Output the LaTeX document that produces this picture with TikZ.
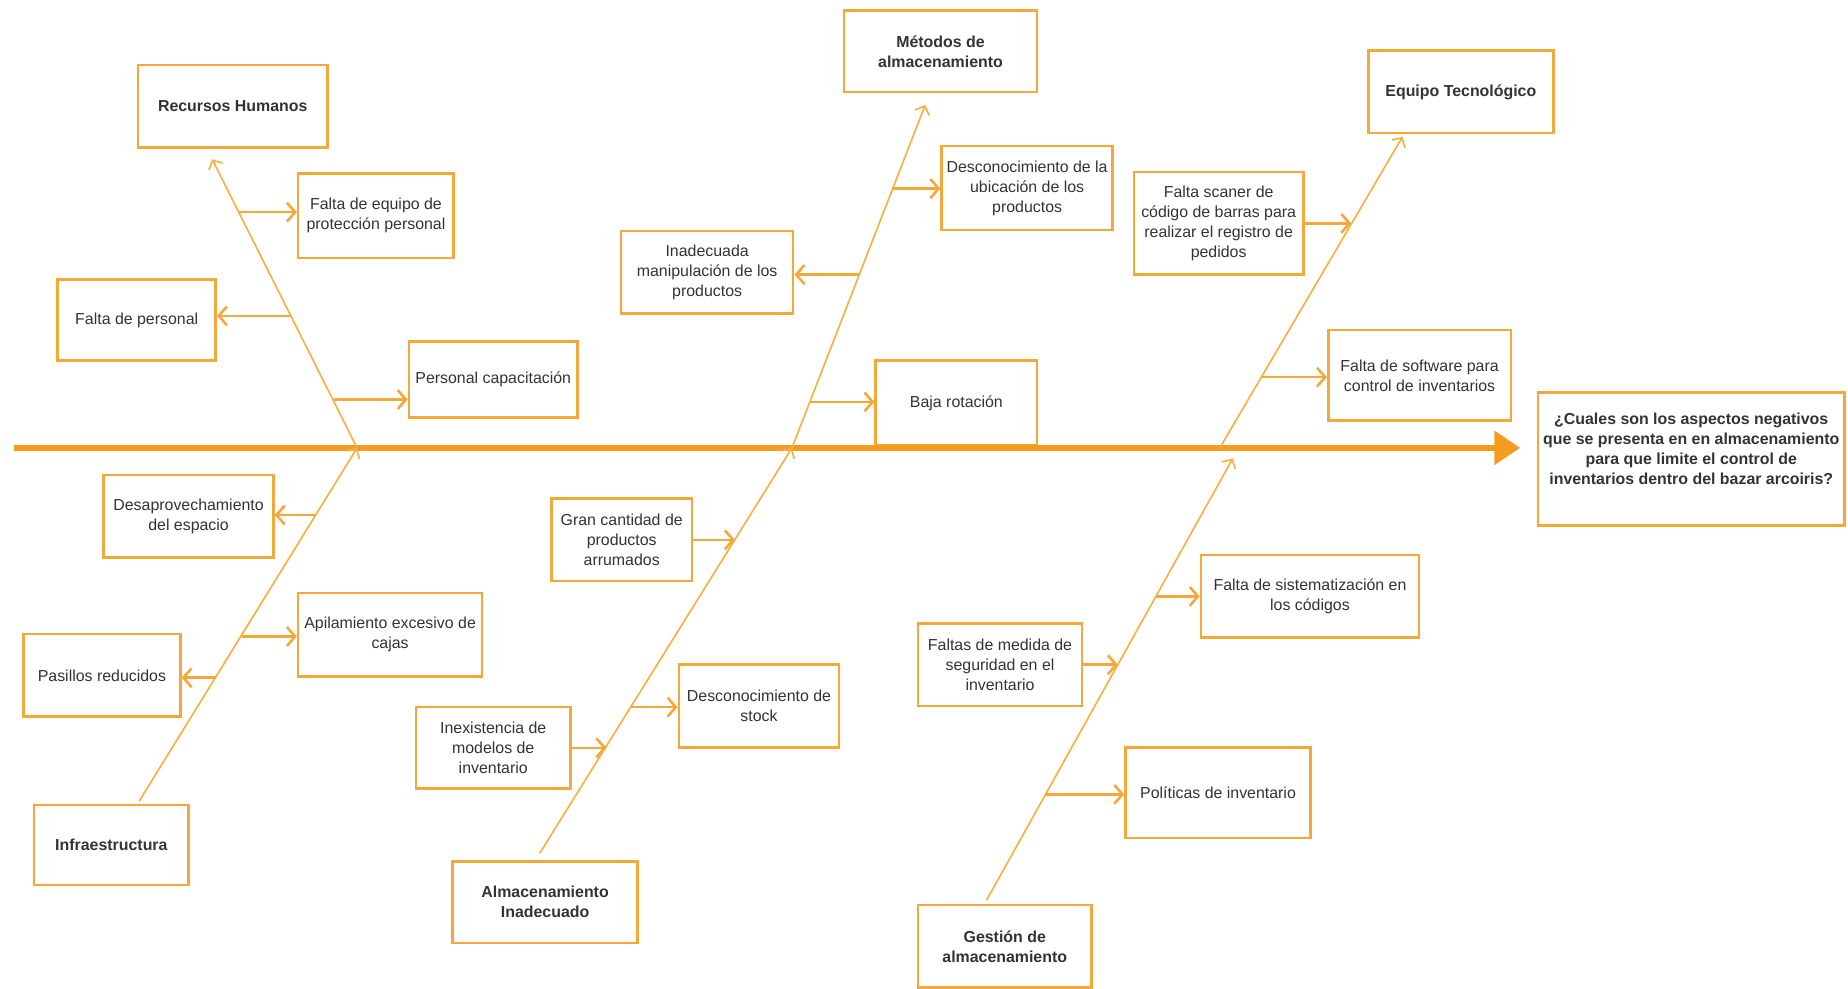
\documentclass[tikz,border=0pt]{standalone}
\usepackage{fontspec}
\setmainfont{Liberation Sans}
\usetikzlibrary{arrows.meta}

\definecolor{fishorange}{HTML}{F59B1F}
\definecolor{boneorange}{HTML}{F7B13F}
\definecolor{boxorange}{HTML}{F5A83A}
\definecolor{labelgray}{HTML}{333333}

\tikzset{
  causebox/.style={draw=boxorange, line width=2.2pt, fill=white, align=center, text=labelgray, inner sep=2pt, font=\fontsize{13.5}{17}\selectfont},
  headbox/.style={causebox, font=\fontsize{13.5}{17}\selectfont\bfseries},
  spine/.style={fishorange, line width=5pt, -{Triangle[length=22pt,width=28pt]}},
  bone/.style={boneorange, line width=1.4pt, -{Straight Barb[length=6pt,width=13pt]}},
  twig/.style={boxorange, line width=2.2pt, -{Straight Barb[length=7pt,width=16pt]}},
}

\begin{document}
\begin{tikzpicture}[x=1pt,y=-1pt]
\useasboundingbox (0,0) rectangle (1568,839);

% categories
\node[headbox, minimum width=161pt, minimum height=70pt] (rh)    at (197.5,90)  {Recursos Humanos};
\node[headbox, minimum width=164pt, minimum height=69pt] (met)   at (798,43.5)  {Métodos de\\almacenamiento};
\node[headbox, minimum width=157pt, minimum height=70pt] (eqt)   at (1239.5,78) {Equipo Tecnológico};
\node[headbox, minimum width=131pt, minimum height=68pt] (infra) at (94.5,717)  {Infraestructura};
\node[headbox, minimum width=157pt, minimum height=69pt] (alm)   at (462.5,765.5) {Almacenamiento\\Inadecuado};
\node[headbox, minimum width=147pt, minimum height=70pt] (gest)  at (852.5,803) {Gestión de\\almacenamiento};

% problem
\node[headbox, minimum width=260pt, minimum height=113pt, text depth=18pt] (q) at (1435,389.5) {¿Cuales son los aspectos negativos\\que se presenta en en almacenamiento\\para que limite el control de\\inventarios dentro del bazar arcoiris?};

% causes, upper half
\node[causebox, minimum width=132pt, minimum height=72pt] (feq)   at (319,183)    {Falta de equipo de\\protección personal};
\node[causebox, minimum width=134pt, minimum height=69pt] (fpers) at (116,271.5)  {Falta de personal};
\node[causebox, minimum width=143pt, minimum height=64pt] (pcap)  at (418.5,322)  {Personal capacitación};
\node[causebox, minimum width=145pt, minimum height=71pt] (desub) at (871.5,159.5) {Desconocimiento de la\\ubicación de los\\productos};
\node[causebox, minimum width=146pt, minimum height=70pt] (inman) at (600,231)    {Inadecuada\\manipulación de los\\productos};
\node[causebox, minimum width=137pt, minimum height=72pt] (baja)  at (811.5,342)  {Baja rotación};
\node[causebox, minimum width=144pt, minimum height=87pt] (scan)  at (1034,189.5) {Falta scaner de\\código de barras para\\realizar el registro de\\pedidos};
\node[causebox, minimum width=155pt, minimum height=77pt] (soft)  at (1204.5,318.5) {Falta de software para\\control de inventarios};

% causes, lower half
\node[causebox, minimum width=144pt, minimum height=70pt] (desap) at (160,438)    {Desaprovechamiento\\del espacio};
\node[causebox, minimum width=156pt, minimum height=71pt] (apil)  at (331,538.5)  {Apilamiento excesivo de\\cajas};
\node[causebox, minimum width=133pt, minimum height=70pt] (pas)   at (86.5,573)   {Pasillos reducidos};
\node[causebox, minimum width=119pt, minimum height=70pt] (gran)  at (527.5,458)  {Gran cantidad de\\productos\\arrumados};
\node[causebox, minimum width=136pt, minimum height=70pt] (dest)  at (644,599)    {Desconocimiento de\\stock};
\node[causebox, minimum width=131pt, minimum height=69pt] (inex)  at (418.5,634.5) {Inexistencia de\\modelos de\\inventario};
\node[causebox, minimum width=185pt, minimum height=70pt] (sist)  at (1111.5,506) {Falta de sistematización en\\los códigos};
\node[causebox, minimum width=139pt, minimum height=70pt] (seg)   at (848.5,564)  {Faltas de medida de\\seguridad en el\\inventario};
\node[causebox, minimum width=157pt, minimum height=77pt] (pol)   at (1033.5,672.5) {Políticas de inventario};

% spine
\coordinate (tail) at (12,380);
\coordinate (j1) at (303,380);
\coordinate (j2) at (672,380);
\coordinate (j3) at (1035,380);
\coordinate (j4) at (1046,389);
\draw[spine, shorten >=14pt] (tail) -- (tail -| q.west);

% bones
\draw[bone] (j1) -- ([shift={(-17.5,9)}]rh.south);
\draw[bone] ([shift={(23.5,-2)}]infra.north) -- (j1);
\draw[bone] (j2) -- ([shift={(-13,10)}]met.south);
\draw[bone] ([shift={(-4.5,-6)}]alm.north) -- (j2);
\draw[bone] (j3) -- ([shift={(-49.5,2)}]eqt.south);
\draw[bone] ([shift={(-15.5,-3)}]gest.north) -- (j4);

% points on the bones
\coordinate (rh1) at (203,180);
\coordinate (rh2) at (247,268);
\coordinate (rh3) at (283,339);
\coordinate (in1) at (268,437);
\coordinate (in2) at (205,540);
\coordinate (in3) at (183,575);
\coordinate (m1) at (757,160);
\coordinate (m2) at (729,233);
\coordinate (m3) at (687,341);
\coordinate (a1) at (623.5,458);
\coordinate (a2) at (535.5,600);
\coordinate (a3) at (514.5,634.5);
\coordinate (e1) at (1146.5,189.5);
\coordinate (e2) at (1070,320);
\coordinate (g1) at (981,506);
\coordinate (g2) at (948.5,564);
\coordinate (g3) at (887.5,674);

% twigs
\draw[twig] (rh1) -- (rh1 -| feq.west);
\draw[twig] (rh2) -- (rh2 -| fpers.east);
\draw[twig] (rh3) -- (rh3 -| pcap.west);
\draw[twig] (in1) -- (in1 -| desap.east);
\draw[twig] (in2) -- (in2 -| apil.west);
\draw[twig] (in3) -- (in3 -| pas.east);
\draw[twig] (m1) -- (m1 -| desub.west);
\draw[twig] (m2) -- (m2 -| inman.east);
\draw[twig] (m3) -- (m3 -| baja.west);
\draw[twig] (a1 -| gran.east) -- (a1);
\draw[twig] (a2) -- (a2 -| dest.west);
\draw[twig] (a3 -| inex.east) -- (a3);
\draw[twig] (e1 -| scan.east) -- (e1);
\draw[twig] (e2) -- (e2 -| soft.west);
\draw[twig] (g1) -- (g1 -| sist.west);
\draw[twig] (g2 -| seg.east) -- (g2);
\draw[twig] (g3) -- (g3 -| pol.west);

\end{tikzpicture}
\end{document}
